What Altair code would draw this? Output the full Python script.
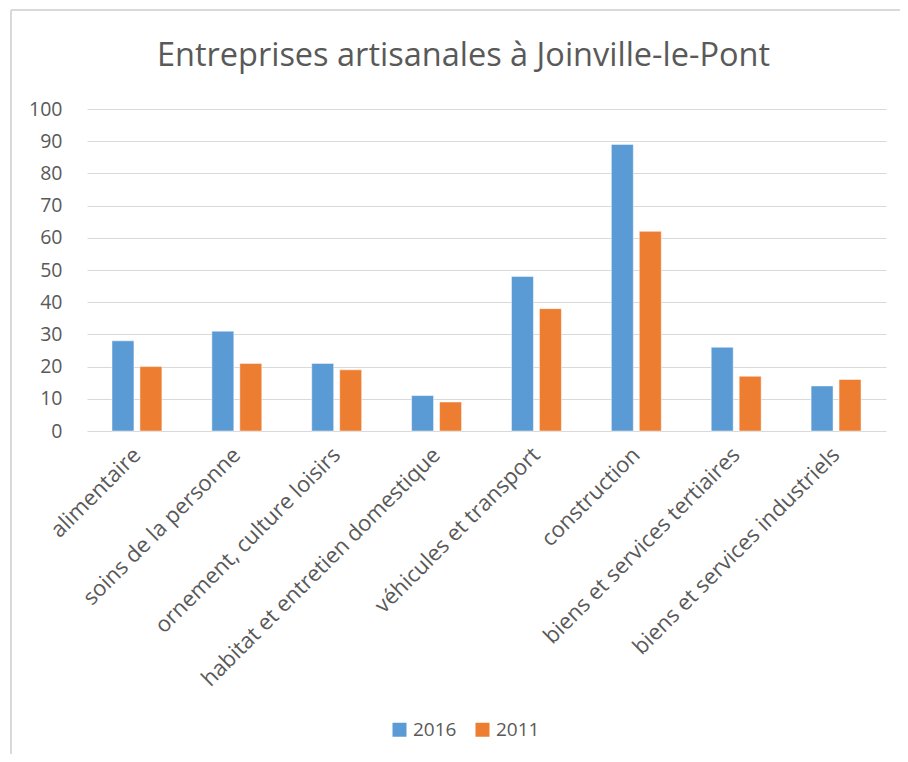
import altair as alt
import pandas as pd

categories = [
    "alimentaire",
    "soins de la personne",
    "ornement, culture loisirs",
    "habitat et entretien domestique",
    "véhicules et transport",
    "construction",
    "biens et services tertiaires",
    "biens et services industriels",
]
values_2016 = [28, 31, 21, 11, 48, 89, 26, 14]
values_2011 = [20, 21, 19, 9, 38, 62, 17, 16]
series = ["2016", "2011"]
colors = ["#5B9BD5", "#ED7D31"]

rows = []
for c, v16, v11 in zip(categories, values_2016, values_2011):
    rows.append({"cat": c, "serie": "2016", "val": v16})
    rows.append({"cat": c, "serie": "2011", "val": v11})
df = pd.DataFrame(rows)

FONT = "Open Sans"
GREY = "#595959"

bars = alt.Chart(df).mark_bar(stroke="white", strokeWidth=0.8, strokeOpacity=0.6).encode(
    x=alt.X("cat:N", sort=categories, title=None,
            scale=alt.Scale(paddingInner=0.5, paddingOuter=0.25),
            axis=alt.Axis(labelAngle=-45, labelAlign="right", labelBaseline="middle",
                          labelFontSize=22, labelColor=GREY, labelFont=FONT,
                          labelPadding=20, ticks=False, domain=False, labelLimit=500)),
    xOffset=alt.XOffset("serie:N", sort=series,
                        scale=alt.Scale(paddingInner=0.214, paddingOuter=0)),
    y=alt.Y("val:Q", title=None,
            scale=alt.Scale(domain=[0, 100], nice=False),
            axis=alt.Axis(values=list(range(0, 101, 10)), labelFontSize=19.5, labelColor=GREY,
                          labelFont=FONT, labelPadding=25, ticks=False, domain=False,
                          gridColor="#D9D9D9", gridWidth=1.2)),
    color=alt.Color("serie:N", sort=series,
                    scale=alt.Scale(domain=series, range=colors),
                    legend=alt.Legend(title=None, orient="none", direction="horizontal",
                                      legendX=303, legendY=611, symbolType="square",
                                      symbolSize=196, symbolStrokeWidth=0,
                                      labelFontSize=19, labelColor=GREY, labelFont=FONT,
                                      columnPadding=16, labelOffset=4)),
)

border_left = alt.Chart(pd.DataFrame({"a": [0]})).mark_rule(color="#D9D9D9", strokeWidth=2).encode(
    x=alt.value(-76), y=alt.value(-99), y2=alt.value(660))
border_top = alt.Chart(pd.DataFrame({"a": [0]})).mark_rule(color="#D9D9D9", strokeWidth=2).encode(
    x=alt.value(-76), x2=alt.value(830), y=alt.value(-99))

chart = alt.layer(border_left, border_top, bars).properties(
    width=799, height=322,
    autosize=alt.AutoSizeParams(type="none"),
    padding={"left": 79, "top": 101, "right": 14, "bottom": 323},
    title=alt.Title("Entreprises artisanales à Joinville-le-Pont", fontSize=32.5, font=FONT,
                    color=GREY, fontWeight="normal", anchor="middle", dx=-23, offset=-63),
).configure_view(stroke=None).configure_axis(labelFont=FONT)

chart.save("out.html", embed_options={"renderer": "svg", "actions": False})
